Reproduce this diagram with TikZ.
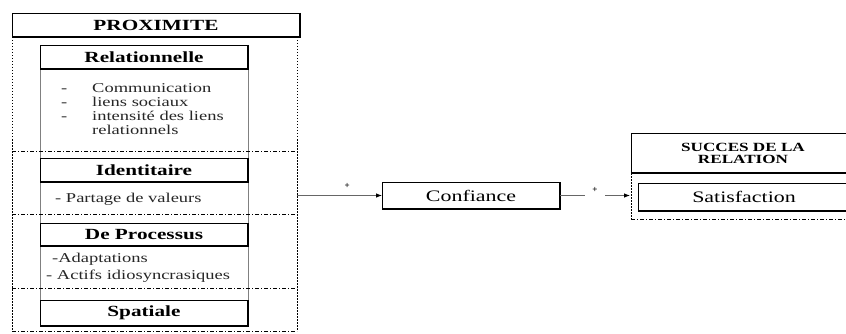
\documentclass[tikz,border=0pt]{standalone}
\usepackage{fontspec}
\usepackage{graphicx}
\setmainfont{Liberation Serif}
\usetikzlibrary{arrows.meta}

% the reference text is set wide
\newcommand{\wide}[1]{\scalebox{1.37}[1]{#1}}

\tikzset{
  hdr/.style={draw, line width=0.9pt, fill=white, inner sep=0pt, outer sep=0pt, font=\bfseries\fontsize{15.5}{18}\selectfont},
  plainbox/.style={draw, line width=0.9pt, fill=white, inner sep=0pt, outer sep=0pt, font=\fontsize{16}{18}\selectfont},
  item/.style={inner sep=0pt, anchor=base west, text=black!85, font=\fontsize{13.5}{14}\selectfont},
  framev/.style={line width=0.7pt, dash pattern=on 1.5pt off 1.5pt},
  frameh/.style={line width=0.7pt, dash pattern=on 4pt off 2pt on 1pt off 2pt},
  link/.style={line width=0.8pt, black!60, -{Latex[length=6pt,width=4.5pt,black]}},
  sign/.style={inner sep=1pt, text=black, font=\bfseries\fontsize{9}{9}\selectfont},
}

\begin{document}
\begin{tikzpicture}[x=1pt, y=-1pt]
\useasboundingbox (0,0) rectangle (846,334);
\clip (0,0) rectangle (846,334);

% proximite frame
\draw[black!50, line width=0.6pt] (40,45) rectangle (248,326);
\foreach \y in {151,214,288,331} \draw[frameh] (12,\y) -- (297,\y);
\draw[framev] (12,37) -- (12,331);
\draw[framev] (297,37) -- (297,331);

\node[hdr, minimum width=288, minimum height=24] (prox) at (156,25) {\wide{PROXIMITE}};
\node[hdr, minimum width=208, minimum height=24] (rel) at (144,57) {\wide{Relationnelle}};
\node[hdr, minimum width=208, minimum height=24] (ident) at (144,170) {\wide{Identitaire}};
\node[hdr, minimum width=208, minimum height=23] (proc) at (144,234.5) {\wide{De Processus}};
\node[hdr, minimum width=208, minimum height=26] (spat) at (144,313) {\wide{Spatiale}};

\foreach \t [count=\i] in {Communication, liens sociaux, intensité des liens, relationnels}
  \node[item] (rel\i) at (92,79+14*\i) {\wide{\t}};
\foreach \i in {1,2,3}
  \node[item] (reldash\i) at (61,79+14*\i) {\wide{-}};
\node[item] (ident1) at (55,202) {\wide{- Partage de valeurs}};
\node[item] (proc1) at (52,262) {\wide{-Adaptations}};
\node[item] (proc2) at (46,279) {\wide{- Actifs idiosyncrasiques}};

% confiance
\node[plainbox, minimum width=178, minimum height=27] (conf) at (471,195.5) {\wide{Confiance}};

% succes frame
\draw[framev] (631,173) -- (631,219);
\draw[frameh] (631,219) -- (846,219);
\node[hdr, minimum width=224, minimum height=40, align=center, font=\bfseries\fontsize{12.5}{12}\selectfont] (succ) at (743,153) {\wide{SUCCES DE LA}\\\wide{RELATION}};
\node[plainbox, minimum width=212, minimum height=28] (satis) at (744,197) {\wide{Satisfaction}};

% shadow edges
\foreach \n in {prox,rel,ident,proc,spat,conf,succ,satis}
  \draw[line width=2pt] (\n.north east) -- (\n.south east) -- (\n.south west);

% links
\coordinate (proxE) at (297,195.5);
\coordinate (succW) at (630,195.5);
\draw[link] (proxE) -- node[sign, pos=0.59, above=6pt] {+} (conf);
\draw[link] (conf) -- node[pos=0.5, fill=white, minimum width=20, minimum height=3, inner sep=0pt, label={[sign]above:+}] (plus) {} (succW);

\end{tikzpicture}
\end{document}
